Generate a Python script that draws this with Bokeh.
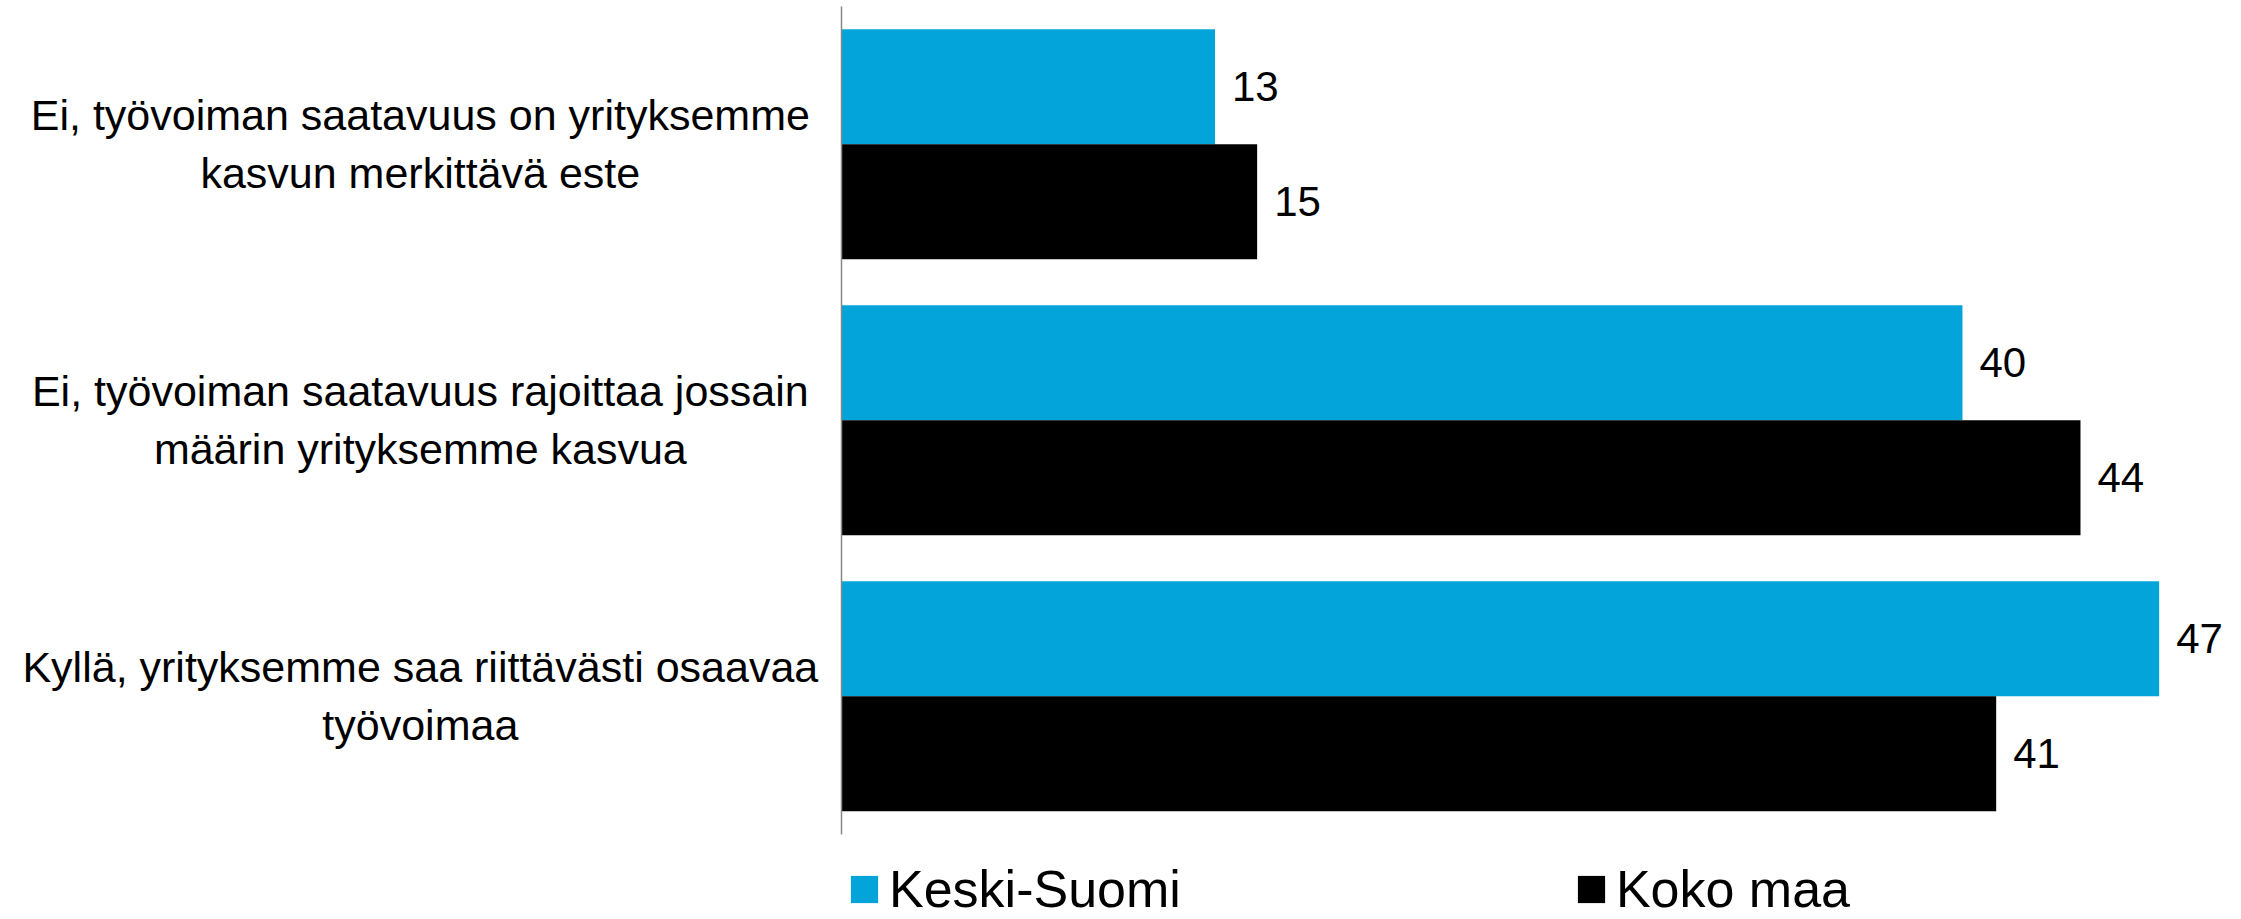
from bokeh.plotting import figure
from bokeh.models import ColumnDataSource, Range1d, Legend, LegendItem, LinearAxis, FixedTicker
from bokeh.core.properties import value
from bokeh.embed import file_html
from bokeh.resources import INLINE

categories = [
    "Ei, työvoiman saatavuus on yrityksemme\nkasvun merkittävä este",
    "Ei, työvoiman saatavuus rajoittaa jossain\nmäärin yrityksemme kasvua",
    "Kyllä, yrityksemme saa riittävästi osaavaa\ntyövoimaa",
]
keski_suomi = [13.3, 39.9, 46.9]
koko_maa = [14.8, 44.1, 41.1]
series_names = ["Keski-Suomi", "Koko maa"]

BLUE = "#03A4DA"
BLACK = "#000000"
FONT_NAME = "Liberation Sans"
FONT = value(FONT_NAME)

n = len(categories)
bh = 0.4167
ypos = [n - 0.5 - i for i in range(n)]          # first category at top

src = ColumnDataSource(dict(
    cat=categories,
    y=ypos,
    y_top=[y + bh / 2 for y in ypos],
    y_bot=[y - bh / 2 for y in ypos],
    ks=keski_suomi,
    km=koko_maa,
    ks_lbl=[str(round(v)) for v in keski_suomi],
    km_lbl=[str(round(v)) for v in koko_maa],
))

p = figure(
    width=2241, height=919,
    x_range=Range1d(-29.92, 49.83),
    y_range=Range1d(-0.3091, 3.0207),
    x_axis_location=None, y_axis_location=None,
    min_border_left=0, min_border_right=0, min_border_top=0, min_border_bottom=0,
    output_backend="svg", toolbar_location=None,
)
p.outline_line_color = None
p.grid.visible = False

r1 = p.hbar(y="y_top", right="ks", left=0, height=bh,
            source=src, fill_color=BLUE, line_color=None)
r2 = p.hbar(y="y_bot", right="km", left=0, height=bh,
            source=src, fill_color=BLACK, line_color=None)

p.text(x="ks", y="y_top", text="ks_lbl", source=src,
       x_offset=17, text_align="left", text_baseline="middle",
       text_font=FONT, text_font_size="42px", text_color="#000000")
p.text(x="km", y="y_bot", text="km_lbl", source=src,
       x_offset=17, text_align="left", text_baseline="middle",
       text_font=FONT, text_font_size="42px", text_color="#000000")

# category labels, centered left of the axis
p.text(x=-14.98, y="y", text="cat", source=src,
       text_align="center", text_baseline="middle", text_line_height=1.2,
       text_font=FONT, text_font_size="43px", text_color="#000000")

# vertical category axis line spanning the category bands
yax = LinearAxis(fixed_location=0, bounds=(0, n), ticker=FixedTicker(ticks=[]),
                 axis_line_color="#888888", axis_line_width=1.5,
                 major_tick_line_color=None, minor_tick_line_color=None)
p.add_layout(yax, "left")

legend = Legend(
    items=[LegendItem(label=series_names[0], renderers=[r1]),
           LegendItem(label=series_names[1], renderers=[r2])],
    orientation="horizontal",
    location=(847, 0),
    glyph_width=34, glyph_height=34,
    label_standoff=8, spacing=393,
    label_text_font=FONT_NAME, label_text_font_size="52px", label_text_color="#000000",
    padding=0, margin=0, border_line_color=None, background_fill_alpha=0,
)
p.add_layout(legend, "center")

open("out.html", "w").write(file_html(p, INLINE))
